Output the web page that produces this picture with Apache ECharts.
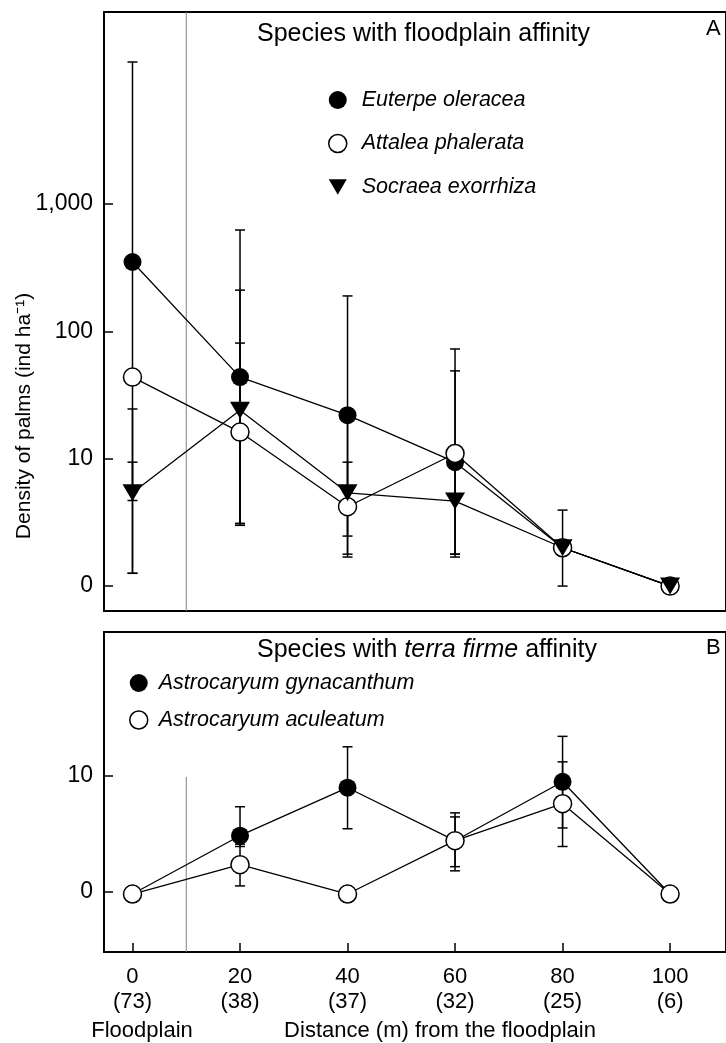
<!DOCTYPE html>
<html>
<head>
<meta charset="utf-8">
<script src="https://cdn.jsdelivr.net/npm/echarts@6/dist/echarts.min.js"></script>
<style>html,body{margin:0;padding:0;background:#fff}#c{width:726px;height:1043px}</style>
</head>
<body>
<div id="c"></div>
<script>
// ---- data ----
const distances = [0, 20, 40, 60, 80, 100];
const sampleSizes = ['(73)', '(38)', '(37)', '(32)', '(25)', '(6)'];
const densityTicks = [1, 10, 100, 1000];      // tick "0" sits at the log position of 1
const terraTicks = [0, 10];

// Panel A (floodplain affinity), density on log scale
const euterpeMean = [351, 43.8, 22, 9.4, 2.0, 1];
const euterpeLow  = [1.26, 3.1, 1.78, 1.69, 1.0, null];
const euterpeHigh = [13070, 626, 190, 72.8, 3.95, null];
const attaleaMean = [43.8, 16.2, 4.2, 11, 2.0, 1];
const attaleaLow  = [4.7, 3.1, 1.69, 1.78, null, null];
const attaleaHigh = [24.6, 211, 21.3, 49, null, null];
const socraeaMean = [5.4, 24, 5.4, 4.65, 2.0, 1];
const socraeaLow  = [1.26, 3.0, 2.47, 1.78, null, null];
const socraeaHigh = [9.4, 81, 9.4, 12.7, null, null];

// Panel B (terra firme affinity)
const gynMean = [-0.2, 4.83, 8.97, 4.4, 9.48, -0.2];
const gynLow  = [null, 3.9, 5.43, 1.8, 5.5, null];
const gynHigh = [null, 7.33, 12.5, 6.8, 13.4, null];
const acuMean = [-0.2, 2.33, -0.2, 4.4, 7.59, -0.2];
const acuLow  = [null, 0.5, null, 2.16, 3.9, null];
const acuHigh = [null, 4.1, null, 6.45, 11.2, null];

const floodplainEdge = 10;

// ---- chart ----
const FONT = "'Liberation Sans', Arial, Helvetica, sans-serif";
const TRI = 'path://M0,0 L20,0 L10,17 Z';

function pairs(ys) { return distances.map((x, i) => [x, ys[i]]); }
function errData(lo, hi) {
  return distances.map((x, i) => lo[i] == null ? null : [x, lo[i], hi[i]]).filter(Boolean);
}
function errRender(params, api) {
  const x = api.value(0);
  const pLo = api.coord([x, api.value(1)]);
  const pHi = api.coord([x, api.value(2)]);
  const hw = 5;
  const st = { stroke: '#000', lineWidth: 1.5 };
  return {
    type: 'group',
    children: [
      { type: 'line', shape: { x1: pLo[0], y1: pLo[1], x2: pHi[0], y2: pHi[1] }, style: st },
      { type: 'line', shape: { x1: pLo[0] - hw, y1: pLo[1], x2: pLo[0] + hw, y2: pLo[1] }, style: st },
      { type: 'line', shape: { x1: pHi[0] - hw, y1: pHi[1], x2: pHi[0] + hw, y2: pHi[1] }, style: st }
    ]
  };
}
function errSeries(lo, hi, idx) {
  return {
    type: 'custom', xAxisIndex: idx, yAxisIndex: idx, z: 1, silent: true,
    renderItem: errRender, encode: { x: 0, y: [1, 2] }, data: errData(lo, hi)
  };
}
function lineSeries(name, ys, idx, kind) {
  const s = {
    name: name, type: 'line', xAxisIndex: idx, yAxisIndex: idx, z: 3,
    data: pairs(ys), showSymbol: true, symbolSize: 18, silent: true,
    lineStyle: { color: '#000', width: 1.3 },
    emphasis: { disabled: true }
  };
  if (kind === 'filled') { s.symbol = 'circle'; s.itemStyle = { color: '#000', borderColor: '#000', borderWidth: 0 }; }
  if (kind === 'open') { s.symbol = 'circle'; s.itemStyle = { color: '#fff', borderColor: '#000', borderWidth: 1.5 }; }
  if (kind === 'tri') { s.symbol = TRI; s.symbolSize = [20, 17]; s.itemStyle = { color: '#000', borderWidth: 0 }; }
  return s;
}

const xBase = {
  type: 'value', min: -5.3, max: 110.4,
  splitLine: { show: false }, axisLine: { show: false, onZero: false }
};

const option = {
  animation: false,
  backgroundColor: '#fff',
  textStyle: { fontFamily: FONT },
  grid: [
    { left: 104, top: 12, right: -10, bottom: 432, show: true, borderColor: '#000', borderWidth: 2, backgroundColor: 'transparent' },
    { left: 104, top: 632, right: -10, bottom: 91, show: true, borderColor: '#000', borderWidth: 2, backgroundColor: 'transparent' }
  ],
  xAxis: [
    Object.assign({}, xBase, { gridIndex: 0, axisTick: { show: false }, axisLabel: { show: false } }),
    Object.assign({}, xBase, {
      gridIndex: 1,
      axisTick: { show: true, inside: true, length: 9, lineStyle: { color: '#000', width: 1.5 }, customValues: distances },
      axisLabel: {
        show: true, customValues: distances, margin: 12, color: '#000', fontSize: 22, lineHeight: 25, fontFamily: FONT,
        formatter: v => v + '\n' + sampleSizes[distances.indexOf(v)]
      }
    })
  ],
  yAxis: [
    {
      type: 'log', logBase: 10, gridIndex: 0, min: 0.637, max: 32280,
      splitLine: { show: false }, axisLine: { show: false, onZero: false },
      axisTick: { show: true, inside: true, length: 9, lineStyle: { color: '#000', width: 1.5 }, customValues: densityTicks },
      axisLabel: {
        customValues: densityTicks, margin: 11, color: '#000', fontSize: 23, fontFamily: FONT,
        formatter: v => (Math.abs(v - 1) < 1e-9 ? '0' : Math.round(v).toLocaleString('en-US'))
      }
    },
    {
      type: 'value', gridIndex: 1, min: -5.2, max: 22.4,
      splitLine: { show: false }, axisLine: { show: false, onZero: false },
      axisTick: { show: true, inside: true, length: 9, lineStyle: { color: '#000', width: 1.5 }, customValues: terraTicks },
      axisLabel: { customValues: terraTicks, margin: 11, color: '#000', fontSize: 23, fontFamily: FONT }
    }
  ],
  title: [
    { text: 'Species with floodplain affinity', left: 257, top: 22, padding: 0,
      textStyle: { fontSize: 25, fontWeight: 'normal', color: '#000', fontFamily: FONT } },
    { text: 'A', left: 706, top: 18, padding: 0,
      textStyle: { fontSize: 22, fontWeight: 'normal', color: '#000', fontFamily: FONT } },
    { text: 'Species with {i|terra firme} affinity', left: 257, top: 638, padding: 0,
      textStyle: { fontSize: 25, fontWeight: 'normal', color: '#000', fontFamily: FONT,
        rich: { i: { fontStyle: 'italic', fontSize: 25, color: '#000', fontFamily: FONT } } } },
    { text: 'B', left: 706, top: 637, padding: 0,
      textStyle: { fontSize: 22, fontWeight: 'normal', color: '#000', fontFamily: FONT } }
  ],
  legend: [
    {
      orient: 'vertical', left: 328, top: 89, padding: 0, itemGap: 21.5, itemWidth: 18, itemHeight: 18,
      selectedMode: false,
      textStyle: { fontSize: 21.5, fontStyle: 'italic', color: '#000', fontFamily: FONT, padding: [0, 0, 0, 10] },
      data: [
        { name: 'Euterpe oleracea', icon: 'circle', itemStyle: { color: '#000', borderWidth: 0 } },
        { name: 'Attalea phalerata', icon: 'circle', itemStyle: { color: '#fff', borderColor: '#000', borderWidth: 1.5 } },
        { name: 'Socraea exorrhiza', icon: TRI, itemStyle: { color: '#000', borderWidth: 0 } }
      ]
    },
    {
      orient: 'vertical', left: 129, top: 672, padding: 0, itemGap: 15, itemWidth: 18, itemHeight: 18,
      selectedMode: false,
      textStyle: { fontSize: 21.5, fontStyle: 'italic', color: '#000', fontFamily: FONT, padding: [0, 0, 0, 6] },
      data: [
        { name: 'Astrocaryum gynacanthum', icon: 'circle', itemStyle: { color: '#000', borderWidth: 0 } },
        { name: 'Astrocaryum aculeatum', icon: 'circle', itemStyle: { color: '#fff', borderColor: '#000', borderWidth: 1.5 } }
      ]
    }
  ],
  graphic: [
    { type: 'text', x: 24, y: 416, rotation: Math.PI / 2, silent: true,
      style: { text: 'Density of palms (ind ha⁻¹)', fontSize: 21, fontFamily: FONT, fill: '#000', align: 'center', verticalAlign: 'middle' } },
    { type: 'text', x: 142, y: 1031, silent: true,
      style: { text: 'Floodplain', fontSize: 22, fontFamily: FONT, fill: '#000', align: 'center', verticalAlign: 'middle' } },
    { type: 'text', x: 440, y: 1031, silent: true,
      style: { text: 'Distance (m) from the floodplain', fontSize: 22, fontFamily: FONT, fill: '#000', align: 'center', verticalAlign: 'middle' } }
  ],
  series: [
    { type: 'line', xAxisIndex: 0, yAxisIndex: 0, silent: true, symbol: 'none', z: 0,
      data: [[floodplainEdge, 0.637], [floodplainEdge, 32280]], lineStyle: { color: '#808080', width: 1 } },
    { type: 'line', xAxisIndex: 1, yAxisIndex: 1, silent: true, symbol: 'none', z: 0,
      data: [[floodplainEdge, 9.9], [floodplainEdge, -5.2]], lineStyle: { color: '#808080', width: 1 } },
    errSeries(euterpeLow, euterpeHigh, 0),
    errSeries(attaleaLow, attaleaHigh, 0),
    errSeries(socraeaLow, socraeaHigh, 0),
    errSeries(gynLow, gynHigh, 1),
    errSeries(acuLow, acuHigh, 1),
    lineSeries('Euterpe oleracea', euterpeMean, 0, 'filled'),
    lineSeries('Attalea phalerata', attaleaMean, 0, 'open'),
    lineSeries('Socraea exorrhiza', socraeaMean, 0, 'tri'),
    lineSeries('Astrocaryum gynacanthum', gynMean, 1, 'filled'),
    lineSeries('Astrocaryum aculeatum', acuMean, 1, 'open')
  ]
};

const chart = echarts.init(document.getElementById('c'), null, { renderer: 'canvas' });
chart.setOption(option);
</script>
</body>
</html>
